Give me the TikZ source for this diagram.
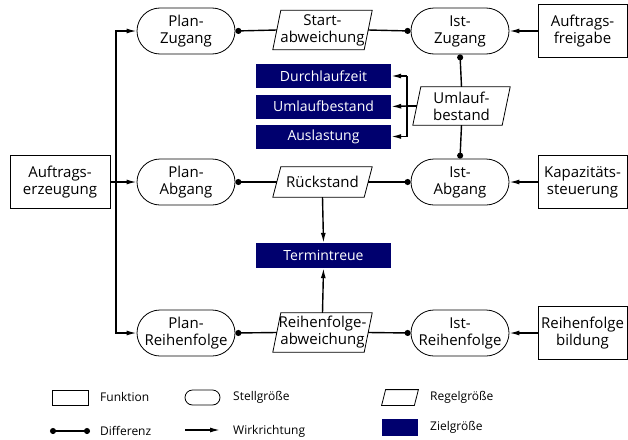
\documentclass[tikz,border=0pt]{standalone}
\usepackage{fontspec}
\setmainfont{Open Sans}
\usetikzlibrary{shapes.misc,arrows.meta}
\definecolor{zielblau}{RGB}{0,0,110}

\tikzset{
  txt/.style={font=\fontsize{15}{17}\selectfont, align=center, inner sep=0pt},
  funktion/.style={txt, draw, line width=0.8pt, minimum width=89pt, minimum height=53pt},
  stellgr/.style={txt, rounded rectangle, draw, line width=0.8pt, minimum width=98pt, minimum height=46pt},
  % Parallelogramm um das (unsichtbare) Rechteck
  schraeg/.style={append after command={\pgfextra{
    \draw[line width=0.8pt] ([xshift=#1]\tikzlastnode.north west) -- ([xshift=#1]\tikzlastnode.north east)
      -- ([xshift=-#1]\tikzlastnode.south east) -- ([xshift=-#1]\tikzlastnode.south west) -- cycle;}}},
  regelgr/.style={txt, schraeg=4pt, minimum width=91pt, minimum height=39pt},
  zielgr/.style={font=\fontsize{14}{16}\selectfont, fill=zielblau, text=white,
    minimum width=135pt, minimum height=24pt, inner sep=0pt},
  leg/.style={font=\fontsize{12}{14}\selectfont, anchor=west, inner sep=0pt},
  legshape/.style={draw, line width=0.8pt, minimum width=36pt, minimum height=15pt, inner sep=0pt},
  wirk/.style={line width=1.4pt, -{Latex[length=10pt,width=5pt]}},
  diff/.style={line width=1.4pt, -{Circle[length=6pt]}},
  diffr/.style={line width=1.4pt, {Circle[length=6pt]}-},
  diffb/.style={line width=1.4pt, {Circle[length=6pt]}-{Circle[length=6pt]}},
  plain/.style={line width=1.4pt},
}

\begin{document}
\begin{tikzpicture}[x=1pt, y=-1pt]
\useasboundingbox (0,0) rectangle (628,439);

% Funktionen
\node[funktion, minimum width=100pt] (erz) at (60,182) {Auftrags-\\erzeugung};
\node[funktion] (freig) at (582.5,31) {Auftrags-\\freigabe};
\node[funktion] (kap) at (582.5,182) {Kapazitäts-\\steuerung};
\node[funktion] (rfbild) at (582.5,333) {Reihenfolge\\bildung};

% Stellgroessen
\node[stellgr] (planzu) at (186,31) {Plan-\\Zugang};
\node[stellgr] (planab) at (186,182) {Plan-\\Abgang};
\node[stellgr] (planrf) at (186,333) {Plan-\\Reihenfolge};
\node[stellgr] (istzu) at (460,31) {Ist-\\Zugang};
\node[stellgr] (istab) at (460,182) {Ist-\\Abgang};
\node[stellgr] (istrf) at (460,333) {Ist-\\Reihenfolge};

% Regelgroessen
\node[regelgr, minimum height=39pt] (start) at (322.5,30) {Start-\\abweichung};
\node[regelgr, minimum height=30pt] (rueck) at (322.5,182) {R\"uckstand};
\node[regelgr] (rfabw) at (322.5,332.5) {Reihenfolge-\\abweichung};
\node[regelgr, minimum width=89pt, minimum height=38pt] (ub) at (461.5,106) {Umlauf-\\bestand};

% Zielgroessen
\node[zielgr] (dlz) at (323.5,76) {Durchlaufzeit};
\node[zielgr] (ulb) at (323.5,106.5) {Umlaufbestand};
\node[zielgr] (ausl) at (323.5,136.5) {Auslastung};
\node[zielgr, minimum height=25pt] (term) at (323.5,255.5) {Termintreue};

% Wirkrichtung links
\coordinate (vl) at (116,182);
\draw[wirk] (erz.east) -- (planab.west);
\draw[wirk] (vl) |- (planzu.west);
\draw[wirk] (vl) |- (planrf.west);

% Wirkrichtung rechts
\draw[wirk] (freig.west) -- (istzu.east);
\draw[wirk] (kap.west) -- (istab.east);
\draw[wirk] (rfbild.west) -- (istrf.east);

% Differenzen
\draw[diffr] (planzu.east) -- (start.west);
\draw[diff] (start.east) -- (istzu.west);
\draw[diffr] (planab.east) -- (rueck.west);
\draw[diff] (rueck.east) -- (istab.west);
\draw[diffr] (planrf.east) -- (rfabw.west);
\draw[diff] (rfabw.east) -- (istrf.west);
\draw[diffr] (istzu.south) -- (ub.north);
\draw[diff] (ub.south) -- (istab.north);

% Umlaufbestand auf Zielgroessen
\coordinate (br) at (407,106);
\draw[plain] (ub.west) -- (br);
\draw[plain] (br |- dlz) -- (br |- ausl);
\draw[wirk] (br |- dlz) -- (dlz.east);
\draw[wirk] (br) -- (ulb.east);
\draw[wirk] (br |- ausl) -- (ausl.east);

% Termintreue
\draw[wirk] (rueck.south) -- (term.north);
\draw[wirk] (rfabw.north) -- (term.south);

% Legende
\node[legshape] (lfunk) at (70,397.5) {};
\node[leg] (tfunk) at (100,397) {Funktion};
\node[legshape, rounded rectangle, minimum width=35pt] (lstell) at (202.5,397.5) {};
\node[leg] (tstell) at (233,397) {Stellgr\"o\ss e};
\node[legshape, draw=none, schraeg=2pt, minimum width=32pt] (lregel) at (400,397.5) {};
\node[leg] (tregel) at (430,397) {Regelgr\"o\ss e};
\coordinate (ld1) at (50,431);
\coordinate (ld2) at (90,431);
\draw[diffb] (ld1) -- (ld2);
\node[leg] (tdiff) at (100,431) {Differenz};
\coordinate (lw1) at (185,430);
\coordinate (lw2) at (220,430);
\draw[wirk] (lw1) -- (lw2);
\node[leg] (twirk) at (233,431) {Wirkrichtung};
\node[legshape, draw=none, fill=zielblau, minimum height=17pt] (lziel) at (400,427.5) {};
\node[leg] (tziel) at (430,427) {Zielgr\"o\ss e};
\end{tikzpicture}
\end{document}
